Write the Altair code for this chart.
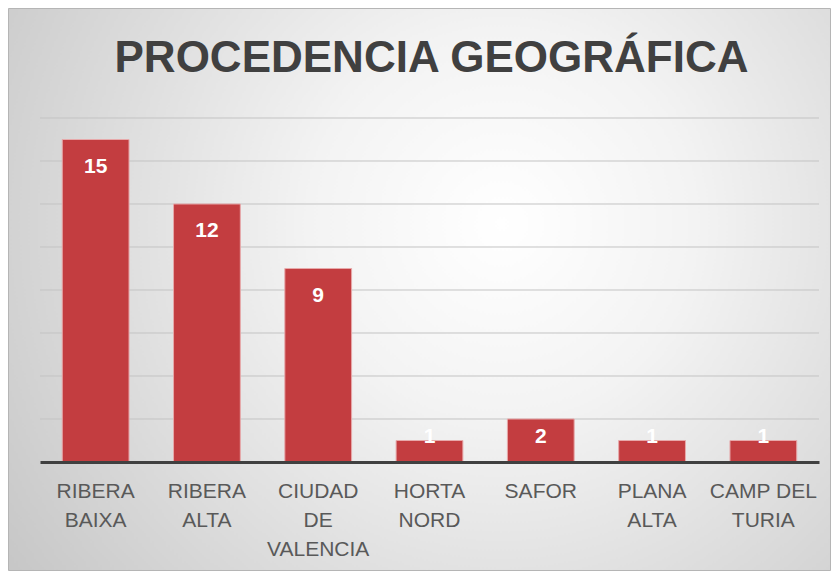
import altair as alt
import pandas as pd

title_text = "PROCEDENCIA GEOGRÁFICA"
categories = ["RIBERA BAIXA", "RIBERA ALTA", "CIUDAD DE VALENCIA", "HORTA NORD",
              "SAFOR", "PLANA ALTA", "CAMP DEL TURIA"]
label_lines = ["RIBERA|BAIXA", "RIBERA|ALTA", "CIUDAD|DE|VALENCIA", "HORTA|NORD",
               "SAFOR", "PLANA|ALTA", "CAMP DEL|TURIA"]
values = [15, 12, 9, 1, 2, 1, 1]
y_ticks = [2, 4, 6, 8, 10, 12, 14, 16]
y_max = 16

W, H = 779, 344
PL, PT, PR, PB = 32, 110, 12, 109

df = pd.DataFrame({"cat": categories, "lab": label_lines, "v": values})
grid_df = pd.DataFrame({"t": y_ticks})
bg_df = pd.DataFrame({"a": [0]})
title_df = pd.DataFrame({"title": [title_text]})

yscale = alt.Scale(domain=[0, y_max], nice=False, zero=True)
xenc = alt.X(
    "lab:N", sort=label_lines,
    scale=alt.Scale(paddingInner=0.4, paddingOuter=0.2),
    axis=alt.Axis(
        title=None, labelExpr="split(datum.value, '|')", labelAngle=0,
        labelFont="Liberation Sans", labelFontSize=21, labelColor="#595959",
        labelLineHeight=29, labelPadding=18, labelBaseline="top",
        ticks=False, tickSize=0, domainColor="#404040", domainWidth=3,
        grid=False, zindex=1,
    ),
)

gradient = alt.Gradient(
    gradient="radial",
    stops=[
        alt.GradientStop(color="#ffffff", offset=0),
        alt.GradientStop(color="#f3f3f3", offset=0.3),
        alt.GradientStop(color="#c2c2c2", offset=1),
    ],
    x1=0.6, y1=0.42, r1=0, x2=0.6, y2=0.42, r2=0.78,
)

bg = alt.Chart(bg_df).mark_rect(fill=gradient, stroke="#b5b5b5", strokeWidth=1).encode(
    x=alt.value(-PL + 0.5), x2=alt.value(W + PR - 0.5),
    y=alt.value(-PT + 0.5), y2=alt.value(H + PB - 0.5),
)

title = alt.Chart(title_df).mark_text(
    font="Liberation Sans", fontSize=44, fontWeight="bold", color="#404040",
    align="center", baseline="alphabetic",
).encode(
    x=alt.value(W / 2 + 2), y=alt.value(-46), text="title:N"
)

grid = alt.Chart(grid_df).mark_rule(color="#c3c3c3", strokeWidth=1).encode(
    y=alt.Y("t:Q", scale=yscale, axis=None)
)

bars = alt.Chart(df).mark_bar(
    fill="#C33D40", stroke="#E7A9AA", strokeWidth=1
).encode(
    x=xenc,
    y=alt.Y("v:Q", scale=yscale, axis=None),
)

labels = alt.Chart(df).transform_calculate(
    ly="max(datum.v - 27 / 21.5, 25 / 21.5)"
).mark_text(
    color="white", font="Liberation Sans", fontWeight="bold", fontSize=21,
    baseline="middle", align="center",
).encode(
    x=alt.X("lab:N", sort=label_lines),
    y=alt.Y("ly:Q", scale=yscale, axis=None),
    text="v:Q",
)

chart = alt.layer(bg, title, grid, bars, labels).properties(
    width=W, height=H,
    autosize=alt.AutoSizeParams(type="none"),
    padding={"left": PL, "top": PT, "right": PR, "bottom": PB},
).configure_view(stroke=None)

chart.save("out.html", embed_options={"renderer": "svg", "actions": False})
